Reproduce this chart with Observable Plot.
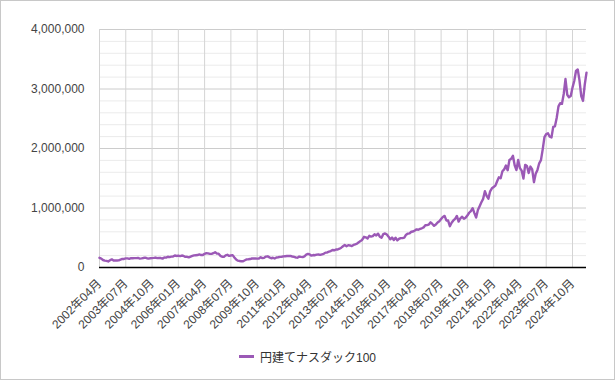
<!DOCTYPE html>
<html>
<head>
<meta charset="utf-8">
<script src="https://cdn.jsdelivr.net/npm/d3@7"></script>
<script src="https://cdn.jsdelivr.net/npm/@observablehq/plot@0.6"></script>
<style>
  html, body { margin: 0; padding: 0; background: #fff; }
  #wrap { position: relative; width: 615px; height: 380px; box-sizing: border-box; border: 1px solid #c8c8c8; background: #fff; overflow: hidden; }
  #legend { height: 34px; display: flex; align-items: center; justify-content: center; font-family: "Liberation Sans", "Noto Sans CJK JP", sans-serif; font-size: 12px; color: #333; }
  #legend .sw { display: inline-block; width: 15px; height: 3px; background: #9b59b6; margin-right: 6px; }
</style>
</head>
<body>
<div id="wrap"><div id="chart"></div><div id="legend"><span class="sw"></span><span>円建てナスダック100</span></div></div>
<script>
const seriesName = "円建てナスダック100";
const startYear = 2002, startMonth = 4;
// monthly values, thousands of yen
const y2002 = [163,150,126,116,112,101,121,137,117];
const y2003 = [118,118,120,132,143,144,153,154,145,156,156,157];
const y2004 = [158,160,150,154,159,165,156,149,155,157,161,167];
const y2005 = [157,159,159,149,167,166,181,175,182,184,202,194];
const y2006 = [199,192,201,194,179,180,171,183,195,204,207,209];
const y2007 = [219,209,209,230,241,238,229,229,240,258,233,233];
const y2008 = [196,181,178,203,214,195,202,208,169,133,115,110];
const y2009 = [104,106,122,136,138,142,151,152,153,150,151,173];
const y2010 = [157,163,183,188,170,156,164,151,168,172,179,180];
const y2011 = [186,190,194,196,194,185,180,169,165,184,178,175];
const y2012 = [188,216,228,219,199,209,206,217,218,212,221,230];
const y2013 = [250,253,266,276,294,289,303,302,316,333,357,378];
const y2014 = [358,375,370,360,380,390,400,425,444,467,516,507];
const y2015 = [488,532,520,527,560,539,568,518,501,561,573,553];
const y2016 = [518,473,504,462,501,456,483,493,494,503,551,569];
const y2017 = [574,601,606,623,641,635,649,659,673,710,714,721];
const y2018 = [759,732,700,722,758,779,814,850,867,791,789,694];
const y2019 = [752,791,818,867,772,827,853,818,838,873,920,949];
const y2020 = [997,913,840,965,1030,1096,1154,1283,1205,1157,1280,1331];
const y2021 = [1353,1376,1449,1515,1500,1617,1649,1714,1635,1807,1826,1878];
const y2022 = [1718,1637,1806,1670,1627,1496,1725,1706,1588,1696,1649,1434];
const y2023 = [1574,1640,1751,1805,1986,2190,2242,2256,2198,2186,2364,2373];
const y2024 = [2517,2707,2762,2752,2916,3167,2904,2862,2881,3023,3135,3303];
const y2025 = [3329,3145,2882,2800,3073,3275];

const tickLabels = ["2002年04月","2003年07月","2004年10月","2006年01月","2007年04月","2008年07月","2009年10月","2011年01月","2012年04月","2013年07月","2014年10月","2016年01月","2017年04月","2018年07月","2019年10月","2021年01月","2022年04月","2023年07月","2024年10月"];
const yMajor = [0, 1000000, 2000000, 3000000, 4000000];
const yMinor = [200000,400000,600000,800000,1200000,1400000,1600000,1800000,2200000,2400000,2600000,2800000,3200000,3400000,3600000,3800000];

const allValues = [].concat(y2002,y2003,y2004,y2005,y2006,y2007,y2008,y2009,y2010,y2011,y2012,y2013,y2014,y2015,y2016,y2017,y2018,y2019,y2020,y2021,y2022,y2023,y2024,y2025);
const months = allValues.map((_, i) => {
  const m0 = startMonth - 1 + i;
  const yy = startYear + Math.floor(m0 / 12);
  const mm = (m0 % 12) + 1;
  return `${yy}年${String(mm).padStart(2, "0")}月`;
});
const data = allValues.map((v, i) => ({month: months[i], value: v * 1000}));

const chart = Plot.plot({
  width: 613,
  height: 338,
  marginLeft: 98,
  marginRight: 28,
  marginTop: 28,
  marginBottom: 72,
  style: {fontFamily: '"Liberation Sans", "Noto Sans CJK JP", sans-serif', fontSize: "12px", color: "#444", background: "#fff"},
  x: {type: "point", domain: months, padding: 0},
  y: {domain: [0, 4000000]},
  marks: [
    Plot.ruleY(yMinor, {stroke: "#ebebeb", strokeWidth: 1, strokeOpacity: 1}),
    Plot.ruleY(yMajor, {stroke: "#cccccc", strokeWidth: 1, strokeOpacity: 1}),
    Plot.ruleX(tickLabels, {stroke: "#d4d4d4", strokeWidth: 1, strokeOpacity: 1}),
    Plot.line(data, {x: "month", y: "value", stroke: "#9b59b6", strokeWidth: 2.4, strokeLinejoin: "round"}),
    Plot.ruleY([0], {stroke: "#000", strokeWidth: 1.3}),
    Plot.axisY({ticks: yMajor, tickFormat: d3.format(","), tickSize: 0, tickPadding: 15, fontSize: 12, label: null}),
    Plot.axisX({ticks: tickLabels, tickSize: 0, tickPadding: 14, tickRotate: -45, fontSize: 12, label: null})
  ]
});
document.getElementById("chart").appendChild(chart);
</script>
</body>
</html>
